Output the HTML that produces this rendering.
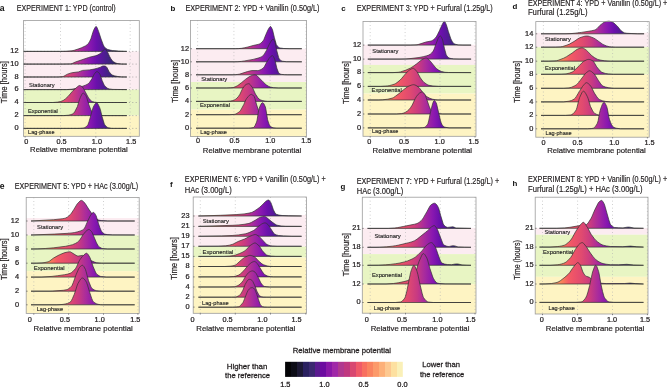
<!DOCTYPE html>
<html><head><meta charset="utf-8"><style>
html,body{margin:0;padding:0;background:#fff;}
svg{display:block;will-change:transform;}
text{font-family:'Liberation Sans', sans-serif;}
</style></head><body>
<svg width="668" height="387" viewBox="0 0 668 387">
<rect width="668" height="387" fill="#fff"/>
<defs><linearGradient id="g0" gradientUnits="userSpaceOnUse" x1="25.10" y1="0" x2="130.25" y2="0"><stop offset="0.0000" stop-color="#fbf0b8"/><stop offset="0.1000" stop-color="#fcb078"/><stop offset="0.1933" stop-color="#f88058"/><stop offset="0.2533" stop-color="#f45c64"/><stop offset="0.3000" stop-color="#ee5468"/><stop offset="0.3800" stop-color="#e04a70"/><stop offset="0.4667" stop-color="#c83a82"/><stop offset="0.5333" stop-color="#aa2c9c"/><stop offset="0.6133" stop-color="#8a18b0"/><stop offset="0.6800" stop-color="#6a10ac"/><stop offset="0.7667" stop-color="#4a1e8e"/><stop offset="0.8333" stop-color="#382874"/><stop offset="0.8800" stop-color="#241c4c"/><stop offset="0.9333" stop-color="#120e26"/><stop offset="1.0000" stop-color="#040406"/></linearGradient></defs>
<rect x="23.50" y="51.40" width="115.80" height="38.20" fill="#fcecf1"/>
<rect x="23.50" y="89.60" width="115.80" height="26.00" fill="#e8f5c3"/>
<rect x="23.50" y="115.60" width="115.80" height="20.70" fill="#fef4c3"/>
<line x1="25.10" y1="20.60" x2="25.10" y2="136.30" stroke="#b2b2b2" stroke-width="0.75" stroke-dasharray="0.8,2.7"/>
<line x1="60.50" y1="20.60" x2="60.50" y2="136.30" stroke="#b2b2b2" stroke-width="0.75" stroke-dasharray="0.8,2.7"/>
<line x1="95.80" y1="20.60" x2="95.80" y2="136.30" stroke="#b2b2b2" stroke-width="0.75" stroke-dasharray="0.8,2.7"/>
<line x1="130.20" y1="20.60" x2="130.20" y2="136.30" stroke="#b2b2b2" stroke-width="0.75" stroke-dasharray="0.8,2.7"/>
<line x1="23.50" y1="51.40" x2="139.30" y2="51.40" stroke="#999" stroke-width="0.8" stroke-dasharray="1,2.4"/>
<line x1="23.50" y1="64.10" x2="139.30" y2="64.10" stroke="#999" stroke-width="0.8" stroke-dasharray="1,2.4"/>
<line x1="23.50" y1="77.00" x2="139.30" y2="77.00" stroke="#999" stroke-width="0.8" stroke-dasharray="1,2.4"/>
<line x1="23.50" y1="89.60" x2="139.30" y2="89.60" stroke="#999" stroke-width="0.8" stroke-dasharray="1,2.4"/>
<line x1="23.50" y1="102.50" x2="139.30" y2="102.50" stroke="#999" stroke-width="0.8" stroke-dasharray="1,2.4"/>
<line x1="23.50" y1="115.60" x2="139.30" y2="115.60" stroke="#999" stroke-width="0.8" stroke-dasharray="1,2.4"/>
<line x1="23.50" y1="128.40" x2="139.30" y2="128.40" stroke="#999" stroke-width="0.8" stroke-dasharray="1,2.4"/>
<path d="M23.5,51.4 60.4,51.4 65.9,51.3 71.9,50.8 74.2,50.3 78.1,49.0 81.4,47.8 85.4,45.9 87.1,44.8 88.1,43.8 89.4,41.9 90.9,38.8 92.9,32.3 93.6,30.3 95.1,27.4 95.6,26.7 96.1,26.5 96.6,26.8 97.1,27.7 98.6,31.4 101.1,39.1 103.3,44.9 104.3,46.8 106.1,48.6 107.1,49.2 108.1,49.6 110.1,50.1 112.3,50.5 118.8,51.1 126.8,51.4Z" fill="url(#g0)" stroke="#303030" stroke-width="0.7" stroke-linejoin="round"/>
<path d="M23.5,64.1 61.7,64.1 70.9,63.9 72.2,63.5 75.4,62.0 88.6,57.5 91.1,56.8 95.4,55.8 97.4,55.1 99.4,54.0 101.6,52.4 103.8,49.7 104.3,49.3 104.8,49.1 105.6,49.4 107.1,51.3 107.8,52.6 109.6,56.4 110.8,58.6 112.3,60.7 113.6,61.8 115.8,63.1 117.8,63.6 121.3,64.0 126.8,64.1Z" fill="url(#g0)" stroke="#303030" stroke-width="0.7" stroke-linejoin="round"/>
<path d="M23.5,77.0 58.2,77.0 62.2,76.7 63.2,76.5 63.9,76.2 67.4,74.2 71.2,72.9 72.9,72.6 78.4,71.9 82.6,70.4 89.4,69.9 94.1,69.1 97.4,68.2 100.4,67.2 102.6,66.1 103.8,65.9 105.1,66.1 106.3,66.7 107.1,67.7 109.1,71.7 110.8,73.8 111.6,74.5 112.3,75.0 114.8,75.9 117.8,76.5 121.3,76.9 126.8,77.0Z" fill="url(#g0)" stroke="#303030" stroke-width="0.7" stroke-linejoin="round"/>
<path d="M23.5,89.6 66.7,89.6 71.9,89.2 76.6,88.3 79.9,87.3 85.4,85.2 87.1,84.4 88.4,83.6 89.6,82.3 91.9,78.8 94.1,74.4 94.9,73.2 96.1,72.0 96.6,71.7 97.1,71.6 97.6,71.8 98.4,72.3 99.9,74.1 100.6,75.9 102.1,80.4 103.6,83.8 104.3,85.2 105.8,86.9 107.6,88.3 109.1,88.9 112.8,89.4 126.8,89.6Z" fill="url(#g0)" stroke="#303030" stroke-width="0.7" stroke-linejoin="round"/>
<path d="M23.5,102.5 52.9,102.5 57.7,102.1 60.7,101.5 63.2,100.5 65.4,98.9 68.2,96.3 71.9,91.9 73.9,89.8 78.4,86.0 79.1,85.6 79.6,85.5 80.9,85.9 82.1,86.7 82.6,87.1 83.6,88.6 85.4,92.1 88.6,98.0 90.6,100.3 91.6,101.2 92.4,101.6 94.9,102.3 96.9,102.5 126.8,102.5Z" fill="url(#g0)" stroke="#303030" stroke-width="0.7" stroke-linejoin="round"/>
<path d="M23.5,115.6 63.7,115.6 68.4,115.2 70.2,114.8 71.7,114.3 72.9,113.8 73.7,113.2 74.7,111.8 75.6,110.1 77.4,106.6 79.6,99.3 80.4,97.3 82.1,93.9 82.6,93.3 83.1,93.1 83.6,93.2 84.4,93.8 85.6,95.2 86.1,96.0 86.9,98.1 88.9,104.8 90.6,109.2 91.6,111.3 92.6,112.7 93.9,113.7 95.1,114.5 96.9,115.1 99.4,115.4 101.3,115.6 126.8,115.6Z" fill="url(#g0)" stroke="#303030" stroke-width="0.7" stroke-linejoin="round"/>
<path d="M23.5,128.4 78.4,128.4 82.1,128.2 84.1,127.9 85.1,127.4 86.1,126.7 87.4,125.6 87.9,124.9 89.1,121.4 93.1,107.5 94.1,105.5 95.1,103.9 95.9,103.1 96.6,102.8 97.1,103.0 97.9,103.9 99.6,107.4 100.4,109.7 102.1,116.7 104.1,123.3 104.8,124.9 106.6,126.8 107.3,127.3 108.1,127.7 110.1,128.1 111.8,128.4 126.8,128.4Z" fill="url(#g0)" stroke="#303030" stroke-width="0.7" stroke-linejoin="round"/>
<rect x="23.50" y="20.60" width="115.80" height="115.70" fill="none" stroke="#9c9c9c" stroke-width="0.8"/>
<line x1="23.50" y1="51.40" x2="24.90" y2="51.40" stroke="#555" stroke-width="0.7"/>
<line x1="23.50" y1="64.10" x2="24.90" y2="64.10" stroke="#555" stroke-width="0.7"/>
<line x1="23.50" y1="77.00" x2="24.90" y2="77.00" stroke="#555" stroke-width="0.7"/>
<line x1="23.50" y1="89.60" x2="24.90" y2="89.60" stroke="#555" stroke-width="0.7"/>
<line x1="23.50" y1="102.50" x2="24.90" y2="102.50" stroke="#555" stroke-width="0.7"/>
<line x1="23.50" y1="115.60" x2="24.90" y2="115.60" stroke="#555" stroke-width="0.7"/>
<line x1="23.50" y1="128.40" x2="24.90" y2="128.40" stroke="#555" stroke-width="0.7"/>
<line x1="25.10" y1="136.30" x2="25.10" y2="137.50" stroke="#555" stroke-width="0.7"/>
<line x1="60.50" y1="136.30" x2="60.50" y2="137.50" stroke="#555" stroke-width="0.7"/>
<line x1="95.80" y1="136.30" x2="95.80" y2="137.50" stroke="#555" stroke-width="0.7"/>
<line x1="130.20" y1="136.30" x2="130.20" y2="137.50" stroke="#555" stroke-width="0.7"/>
<text x="28.90" y="86.70" font-size="6.1" text-anchor="start" font-weight="normal" fill="#222" textLength="25.70" lengthAdjust="spacingAndGlyphs" stroke="#222" stroke-width="0.14">Stationary</text>
<text x="27.90" y="113.30" font-size="6.1" text-anchor="start" font-weight="normal" fill="#222" textLength="30.00" lengthAdjust="spacingAndGlyphs" stroke="#222" stroke-width="0.14">Exponential</text>
<text x="28.10" y="133.90" font-size="6.1" text-anchor="start" font-weight="normal" fill="#222" textLength="26.40" lengthAdjust="spacingAndGlyphs" stroke="#222" stroke-width="0.14">Lag-phase</text>
<text x="18.60" y="53.20" font-size="7.4" text-anchor="end" font-weight="normal" fill="#231f20" stroke="#231f20" stroke-width="0.24">12</text>
<text x="18.60" y="65.90" font-size="7.4" text-anchor="end" font-weight="normal" fill="#231f20" stroke="#231f20" stroke-width="0.24">10</text>
<text x="18.60" y="78.80" font-size="7.4" text-anchor="end" font-weight="normal" fill="#231f20" stroke="#231f20" stroke-width="0.24">8</text>
<text x="18.60" y="91.40" font-size="7.4" text-anchor="end" font-weight="normal" fill="#231f20" stroke="#231f20" stroke-width="0.24">6</text>
<text x="18.60" y="104.30" font-size="7.4" text-anchor="end" font-weight="normal" fill="#231f20" stroke="#231f20" stroke-width="0.24">4</text>
<text x="18.60" y="117.40" font-size="7.4" text-anchor="end" font-weight="normal" fill="#231f20" stroke="#231f20" stroke-width="0.24">2</text>
<text x="18.60" y="130.20" font-size="7.4" text-anchor="end" font-weight="normal" fill="#231f20" stroke="#231f20" stroke-width="0.24">0</text>
<text x="26.25" y="143.70" font-size="7.3" text-anchor="middle" font-weight="normal" fill="#231f20" stroke="#231f20" stroke-width="0.24">0</text>
<text x="61.50" y="143.70" font-size="7.3" text-anchor="middle" font-weight="normal" fill="#231f20" stroke="#231f20" stroke-width="0.24">0.5</text>
<text x="96.90" y="143.70" font-size="7.3" text-anchor="middle" font-weight="normal" fill="#231f20" stroke="#231f20" stroke-width="0.24">1.0</text>
<text x="131.20" y="143.70" font-size="7.3" text-anchor="middle" font-weight="normal" fill="#231f20" stroke="#231f20" stroke-width="0.24">1.5</text>
<text x="30.10" y="152.40" font-size="7.8" text-anchor="start" font-weight="normal" fill="#231f20" textLength="97.50" lengthAdjust="spacingAndGlyphs" stroke="#231f20" stroke-width="0.2">Relative membrane potential</text>
<text x="7.30" y="82.10" font-size="8.2" text-anchor="middle" font-weight="normal" fill="#231f20" textLength="42.20" lengthAdjust="spacingAndGlyphs" transform="rotate(-90 7.30 82.10)" stroke="#231f20" stroke-width="0.2">Time [hours]</text>
<text x="-0.20" y="10.80" font-size="8.6" text-anchor="start" font-weight="bold" fill="#111">a</text>
<text x="16.80" y="10.60" font-size="8.2" text-anchor="start" font-weight="normal" fill="#231f20" textLength="98.90" lengthAdjust="spacingAndGlyphs" stroke="#231f20" stroke-width="0.16">EXPERIMENT 1: YPD (control)</text>
<defs><linearGradient id="g1" gradientUnits="userSpaceOnUse" x1="197.60" y1="0" x2="306.50" y2="0"><stop offset="0.0000" stop-color="#fbf0b8"/><stop offset="0.1000" stop-color="#fcb078"/><stop offset="0.1933" stop-color="#f88058"/><stop offset="0.2533" stop-color="#f45c64"/><stop offset="0.3000" stop-color="#ee5468"/><stop offset="0.3800" stop-color="#e04a70"/><stop offset="0.4667" stop-color="#c83a82"/><stop offset="0.5333" stop-color="#aa2c9c"/><stop offset="0.6133" stop-color="#8a18b0"/><stop offset="0.6800" stop-color="#6a10ac"/><stop offset="0.7667" stop-color="#4a1e8e"/><stop offset="0.8333" stop-color="#382874"/><stop offset="0.8800" stop-color="#241c4c"/><stop offset="0.9333" stop-color="#120e26"/><stop offset="1.0000" stop-color="#040406"/></linearGradient></defs>
<rect x="190.50" y="48.70" width="116.00" height="33.30" fill="#fcecf1"/>
<rect x="190.50" y="82.00" width="116.00" height="27.60" fill="#e8f5c3"/>
<rect x="190.50" y="109.60" width="116.00" height="27.00" fill="#fef4c3"/>
<line x1="197.60" y1="20.40" x2="197.60" y2="136.60" stroke="#b2b2b2" stroke-width="0.75" stroke-dasharray="0.8,2.7"/>
<line x1="233.90" y1="20.40" x2="233.90" y2="136.60" stroke="#b2b2b2" stroke-width="0.75" stroke-dasharray="0.8,2.7"/>
<line x1="270.20" y1="20.40" x2="270.20" y2="136.60" stroke="#b2b2b2" stroke-width="0.75" stroke-dasharray="0.8,2.7"/>
<line x1="306.00" y1="20.40" x2="306.00" y2="136.60" stroke="#b2b2b2" stroke-width="0.75" stroke-dasharray="0.8,2.7"/>
<path d="M196.0,48.7 235.2,48.7 238.4,48.6 241.7,48.3 244.7,47.7 247.9,47.0 253.1,45.5 258.1,44.4 259.4,44.0 260.6,43.3 261.9,42.2 263.1,40.8 263.9,39.5 265.9,34.5 268.1,29.6 269.6,27.2 270.1,26.6 270.4,26.5 270.9,26.7 271.4,27.4 272.6,30.1 274.4,37.7 276.3,44.5 277.1,45.8 278.6,47.2 279.3,47.7 280.3,48.0 283.8,48.5 289.1,48.7 301.8,48.7Z" fill="url(#g1)" stroke="#303030" stroke-width="0.7" stroke-linejoin="round"/>
<path d="M196.0,61.8 234.2,61.8 237.9,61.7 241.4,61.4 244.7,60.9 253.1,59.4 258.1,58.1 260.1,57.4 261.6,56.7 262.6,56.1 263.4,55.3 264.4,53.9 266.4,50.5 269.1,44.6 271.1,41.2 272.1,39.8 272.6,39.4 273.1,39.3 273.6,39.6 274.1,40.3 275.1,42.2 276.8,50.8 278.6,57.4 279.3,58.9 280.8,60.5 281.6,60.9 282.3,61.2 286.3,61.7 301.8,61.8Z" fill="url(#g1)" stroke="#303030" stroke-width="0.7" stroke-linejoin="round"/>
<path d="M196.0,74.8 232.2,74.8 235.2,74.7 237.9,74.4 239.7,74.1 247.4,71.6 250.9,70.7 251.9,70.6 257.6,70.6 258.9,70.4 261.1,69.5 263.4,68.0 264.4,66.6 266.4,62.8 269.1,58.4 271.1,56.2 271.9,55.7 272.4,55.6 272.9,55.9 273.4,56.5 274.6,59.0 275.1,60.6 276.8,68.1 278.3,72.1 278.8,72.9 279.3,73.4 280.3,74.0 281.6,74.4 284.6,74.7 287.6,74.8 301.8,74.8Z" fill="url(#g1)" stroke="#303030" stroke-width="0.7" stroke-linejoin="round"/>
<path d="M196.0,88.0 226.7,88.0 230.7,87.8 233.2,87.6 235.9,86.5 237.7,85.6 241.4,82.8 245.7,79.2 249.4,76.6 250.9,75.9 252.6,75.3 253.9,74.9 255.1,74.8 256.1,75.1 257.1,75.8 263.1,81.9 266.1,84.8 268.4,86.2 270.1,87.0 273.6,87.7 278.3,88.0 301.8,88.0Z" fill="url(#g1)" stroke="#303030" stroke-width="0.7" stroke-linejoin="round"/>
<path d="M196.0,101.4 225.9,101.4 230.7,101.1 232.7,100.6 234.4,99.9 235.7,99.2 236.9,98.2 238.4,96.5 239.9,94.3 242.4,88.9 243.9,86.7 244.9,85.4 246.2,84.4 247.7,83.9 248.7,83.7 249.4,83.9 250.1,84.5 252.4,87.5 253.1,88.9 255.4,94.0 257.9,97.8 259.1,99.1 260.6,99.9 262.1,100.5 264.9,101.1 267.6,101.4 301.8,101.4Z" fill="url(#g1)" stroke="#303030" stroke-width="0.7" stroke-linejoin="round"/>
<path d="M196.0,114.7 229.7,114.7 234.2,114.4 235.7,114.0 236.9,113.4 238.2,112.6 239.4,111.7 240.2,110.9 241.4,108.9 243.7,104.7 245.9,99.7 246.7,98.4 248.2,96.6 249.4,95.3 250.4,94.7 251.4,94.4 251.9,94.5 252.6,94.9 254.1,96.4 254.9,98.4 256.4,104.1 258.6,110.8 259.1,111.7 259.9,112.5 260.9,113.4 261.9,114.0 264.1,114.5 266.6,114.7 301.8,114.7Z" fill="url(#g1)" stroke="#303030" stroke-width="0.7" stroke-linejoin="round"/>
<path d="M196.0,128.2 248.2,128.2 250.9,128.0 253.4,127.6 254.1,127.0 254.9,125.9 256.6,122.1 257.1,120.1 258.6,110.7 259.1,108.5 260.1,106.0 261.1,104.0 261.9,103.0 262.6,102.7 263.1,102.9 263.9,103.8 265.4,107.0 265.9,109.2 267.6,119.7 268.6,122.9 269.4,124.9 270.1,126.2 270.6,126.6 271.9,127.3 273.1,127.8 276.8,128.2 301.8,128.2Z" fill="url(#g1)" stroke="#303030" stroke-width="0.7" stroke-linejoin="round"/>
<rect x="190.50" y="20.40" width="116.00" height="116.20" fill="none" stroke="#9c9c9c" stroke-width="0.8"/>
<line x1="190.50" y1="48.70" x2="191.90" y2="48.70" stroke="#555" stroke-width="0.7"/>
<line x1="190.50" y1="61.80" x2="191.90" y2="61.80" stroke="#555" stroke-width="0.7"/>
<line x1="190.50" y1="74.80" x2="191.90" y2="74.80" stroke="#555" stroke-width="0.7"/>
<line x1="190.50" y1="88.00" x2="191.90" y2="88.00" stroke="#555" stroke-width="0.7"/>
<line x1="190.50" y1="101.40" x2="191.90" y2="101.40" stroke="#555" stroke-width="0.7"/>
<line x1="190.50" y1="114.70" x2="191.90" y2="114.70" stroke="#555" stroke-width="0.7"/>
<line x1="190.50" y1="128.20" x2="191.90" y2="128.20" stroke="#555" stroke-width="0.7"/>
<line x1="197.60" y1="136.60" x2="197.60" y2="137.80" stroke="#555" stroke-width="0.7"/>
<line x1="233.90" y1="136.60" x2="233.90" y2="137.80" stroke="#555" stroke-width="0.7"/>
<line x1="270.20" y1="136.60" x2="270.20" y2="137.80" stroke="#555" stroke-width="0.7"/>
<line x1="306.00" y1="136.60" x2="306.00" y2="137.80" stroke="#555" stroke-width="0.7"/>
<text x="201.20" y="80.90" font-size="6.1" text-anchor="start" font-weight="normal" fill="#222" textLength="26.00" lengthAdjust="spacingAndGlyphs" stroke="#222" stroke-width="0.14">Stationary</text>
<text x="199.90" y="106.90" font-size="6.1" text-anchor="start" font-weight="normal" fill="#222" textLength="30.20" lengthAdjust="spacingAndGlyphs" stroke="#222" stroke-width="0.14">Exponential</text>
<text x="200.30" y="134.30" font-size="6.1" text-anchor="start" font-weight="normal" fill="#222" textLength="26.70" lengthAdjust="spacingAndGlyphs" stroke="#222" stroke-width="0.14">Lag-phase</text>
<text x="189.00" y="50.50" font-size="7.4" text-anchor="end" font-weight="normal" fill="#231f20" stroke="#231f20" stroke-width="0.24">12</text>
<text x="189.00" y="63.60" font-size="7.4" text-anchor="end" font-weight="normal" fill="#231f20" stroke="#231f20" stroke-width="0.24">10</text>
<text x="189.00" y="76.60" font-size="7.4" text-anchor="end" font-weight="normal" fill="#231f20" stroke="#231f20" stroke-width="0.24">8</text>
<text x="189.00" y="89.80" font-size="7.4" text-anchor="end" font-weight="normal" fill="#231f20" stroke="#231f20" stroke-width="0.24">6</text>
<text x="189.00" y="103.20" font-size="7.4" text-anchor="end" font-weight="normal" fill="#231f20" stroke="#231f20" stroke-width="0.24">4</text>
<text x="189.00" y="116.50" font-size="7.4" text-anchor="end" font-weight="normal" fill="#231f20" stroke="#231f20" stroke-width="0.24">2</text>
<text x="189.00" y="130.00" font-size="7.4" text-anchor="end" font-weight="normal" fill="#231f20" stroke="#231f20" stroke-width="0.24">0</text>
<text x="198.10" y="143.30" font-size="7.3" text-anchor="middle" font-weight="normal" fill="#231f20" stroke="#231f20" stroke-width="0.24">0</text>
<text x="234.50" y="143.30" font-size="7.3" text-anchor="middle" font-weight="normal" fill="#231f20" stroke="#231f20" stroke-width="0.24">0.5</text>
<text x="270.30" y="143.30" font-size="7.3" text-anchor="middle" font-weight="normal" fill="#231f20" stroke="#231f20" stroke-width="0.24">1.0</text>
<text x="306.30" y="143.30" font-size="7.3" text-anchor="middle" font-weight="normal" fill="#231f20" stroke="#231f20" stroke-width="0.24">1.5</text>
<text x="202.80" y="152.70" font-size="7.8" text-anchor="start" font-weight="normal" fill="#231f20" textLength="98.40" lengthAdjust="spacingAndGlyphs" stroke="#231f20" stroke-width="0.2">Relative membrane potential</text>
<text x="177.70" y="81.30" font-size="8.2" text-anchor="middle" font-weight="normal" fill="#231f20" textLength="43.00" lengthAdjust="spacingAndGlyphs" transform="rotate(-90 177.70 81.30)" stroke="#231f20" stroke-width="0.2">Time [hours]</text>
<text x="170.40" y="10.80" font-size="7.9" text-anchor="start" font-weight="bold" fill="#111">b</text>
<text x="185.40" y="10.60" font-size="8.2" text-anchor="start" font-weight="normal" fill="#231f20" textLength="134.10" lengthAdjust="spacingAndGlyphs" stroke="#231f20" stroke-width="0.16">EXPERIMENT 2: YPD + Vanillin (0.50g/L)</text>
<defs><linearGradient id="g2" gradientUnits="userSpaceOnUse" x1="370.20" y1="0" x2="474.90" y2="0"><stop offset="0.0000" stop-color="#fbf0b8"/><stop offset="0.1000" stop-color="#fcb078"/><stop offset="0.1933" stop-color="#f88058"/><stop offset="0.2533" stop-color="#f45c64"/><stop offset="0.3000" stop-color="#ee5468"/><stop offset="0.3800" stop-color="#e04a70"/><stop offset="0.4667" stop-color="#c83a82"/><stop offset="0.5333" stop-color="#aa2c9c"/><stop offset="0.6133" stop-color="#8a18b0"/><stop offset="0.6800" stop-color="#6a10ac"/><stop offset="0.7667" stop-color="#4a1e8e"/><stop offset="0.8333" stop-color="#382874"/><stop offset="0.8800" stop-color="#241c4c"/><stop offset="0.9333" stop-color="#120e26"/><stop offset="1.0000" stop-color="#040406"/></linearGradient></defs>
<rect x="363.00" y="44.80" width="113.00" height="20.10" fill="#fcecf1"/>
<rect x="363.00" y="64.90" width="113.00" height="28.60" fill="#e8f5c3"/>
<rect x="363.00" y="93.50" width="113.00" height="42.80" fill="#fef4c3"/>
<line x1="370.20" y1="21.50" x2="370.20" y2="136.30" stroke="#b2b2b2" stroke-width="0.75" stroke-dasharray="0.8,2.7"/>
<line x1="405.10" y1="21.50" x2="405.10" y2="136.30" stroke="#b2b2b2" stroke-width="0.75" stroke-dasharray="0.8,2.7"/>
<line x1="440.00" y1="21.50" x2="440.00" y2="136.30" stroke="#b2b2b2" stroke-width="0.75" stroke-dasharray="0.8,2.7"/>
<line x1="475.00" y1="21.50" x2="475.00" y2="136.30" stroke="#b2b2b2" stroke-width="0.75" stroke-dasharray="0.8,2.7"/>
<path d="M367.8,45.1 410.2,45.1 415.0,44.9 417.0,44.8 418.2,44.5 425.7,42.1 431.2,41.0 432.4,40.4 433.7,39.6 435.4,38.0 436.2,37.0 437.4,34.8 439.4,30.8 442.2,24.5 443.7,21.8 444.2,21.4 444.4,21.4 444.7,21.6 445.2,22.2 446.4,24.9 448.4,31.6 450.9,39.0 452.1,41.3 453.1,42.7 453.9,43.5 454.6,44.0 455.6,44.3 458.1,44.9 462.9,45.1 471.1,45.1Z" fill="url(#g2)" stroke="#303030" stroke-width="0.7" stroke-linejoin="round"/>
<path d="M367.8,59.1 400.0,59.1 406.0,58.9 411.0,58.5 419.0,57.5 423.2,56.7 426.7,55.8 428.7,55.1 430.2,54.3 431.7,53.0 433.2,51.1 434.2,49.0 435.7,44.7 438.2,38.3 439.4,36.5 439.9,36.0 440.4,35.9 440.9,36.3 441.4,37.1 442.7,40.0 444.4,48.2 446.1,54.4 446.9,56.0 448.4,57.5 449.9,58.3 451.6,58.6 453.6,58.9 459.1,59.1 471.1,59.1Z" fill="url(#g2)" stroke="#303030" stroke-width="0.7" stroke-linejoin="round"/>
<path d="M367.8,72.6 393.0,72.6 398.2,72.3 400.5,71.9 406.0,70.1 410.7,67.9 413.0,66.5 416.7,63.8 421.4,60.0 424.4,58.4 425.9,58.0 426.4,58.1 427.2,58.4 429.7,60.4 435.2,67.2 436.4,68.6 438.9,70.3 441.2,71.4 444.9,72.3 448.6,72.5 471.1,72.6Z" fill="url(#g2)" stroke="#303030" stroke-width="0.7" stroke-linejoin="round"/>
<path d="M367.8,86.4 380.8,86.4 385.5,86.1 387.8,85.9 389.8,85.5 392.0,84.9 394.5,84.1 395.7,83.5 397.0,82.6 400.2,80.0 401.5,78.6 405.0,74.4 408.7,70.5 409.7,69.8 411.5,68.8 412.5,68.4 413.2,68.3 413.7,68.4 414.5,68.9 416.7,71.3 417.7,72.9 420.2,77.5 421.9,80.0 423.2,81.5 424.2,82.5 426.2,83.9 427.7,84.8 428.9,85.3 432.9,86.0 438.9,86.4 471.1,86.4Z" fill="url(#g2)" stroke="#303030" stroke-width="0.7" stroke-linejoin="round"/>
<path d="M367.8,100.0 378.5,100.0 382.5,99.8 387.8,99.2 392.3,98.1 393.5,97.6 395.2,96.4 399.0,93.6 403.0,90.2 407.5,86.8 408.7,86.2 411.2,85.2 412.5,84.8 413.7,84.7 414.7,84.9 416.0,85.4 419.0,87.5 419.9,88.6 422.7,92.3 425.4,95.3 426.9,96.7 429.7,98.2 432.4,99.2 435.7,99.8 437.9,100.0 471.1,100.0Z" fill="url(#g2)" stroke="#303030" stroke-width="0.7" stroke-linejoin="round"/>
<path d="M367.8,114.0 396.5,114.0 401.7,113.6 404.0,113.0 405.5,112.2 407.2,111.2 409.0,109.6 410.5,107.7 412.2,105.1 415.2,98.6 416.5,96.4 418.2,94.3 419.5,93.1 421.2,92.2 422.2,92.0 422.9,92.3 423.7,93.0 424.9,94.6 425.4,95.5 429.4,106.9 430.4,109.2 432.4,111.9 433.2,112.6 433.9,113.0 437.2,113.6 442.7,114.0 471.1,114.0Z" fill="url(#g2)" stroke="#303030" stroke-width="0.7" stroke-linejoin="round"/>
<path d="M367.8,127.9 419.2,127.9 422.4,127.7 423.9,127.5 424.7,127.3 425.4,126.8 426.4,125.9 427.4,124.6 427.9,123.7 428.7,121.0 430.2,113.5 432.2,105.2 433.2,102.1 433.7,101.1 434.2,100.5 434.7,100.7 435.4,101.6 436.2,102.9 436.7,104.3 440.4,120.3 441.2,122.9 441.7,124.1 442.2,124.9 442.9,125.9 443.7,126.6 444.4,127.0 445.9,127.4 449.1,127.9 471.1,127.9Z" fill="url(#g2)" stroke="#303030" stroke-width="0.7" stroke-linejoin="round"/>
<rect x="363.00" y="21.50" width="113.00" height="114.80" fill="none" stroke="#9c9c9c" stroke-width="0.8"/>
<line x1="363.00" y1="45.10" x2="364.40" y2="45.10" stroke="#555" stroke-width="0.7"/>
<line x1="363.00" y1="59.10" x2="364.40" y2="59.10" stroke="#555" stroke-width="0.7"/>
<line x1="363.00" y1="72.60" x2="364.40" y2="72.60" stroke="#555" stroke-width="0.7"/>
<line x1="363.00" y1="86.40" x2="364.40" y2="86.40" stroke="#555" stroke-width="0.7"/>
<line x1="363.00" y1="100.00" x2="364.40" y2="100.00" stroke="#555" stroke-width="0.7"/>
<line x1="363.00" y1="114.00" x2="364.40" y2="114.00" stroke="#555" stroke-width="0.7"/>
<line x1="363.00" y1="127.90" x2="364.40" y2="127.90" stroke="#555" stroke-width="0.7"/>
<line x1="370.20" y1="136.30" x2="370.20" y2="137.50" stroke="#555" stroke-width="0.7"/>
<line x1="405.10" y1="136.30" x2="405.10" y2="137.50" stroke="#555" stroke-width="0.7"/>
<line x1="440.00" y1="136.30" x2="440.00" y2="137.50" stroke="#555" stroke-width="0.7"/>
<line x1="475.00" y1="136.30" x2="475.00" y2="137.50" stroke="#555" stroke-width="0.7"/>
<text x="372.30" y="53.10" font-size="6.1" text-anchor="start" font-weight="normal" fill="#222" textLength="26.10" lengthAdjust="spacingAndGlyphs" stroke="#222" stroke-width="0.14">Stationary</text>
<text x="371.60" y="92.10" font-size="6.1" text-anchor="start" font-weight="normal" fill="#222" textLength="30.30" lengthAdjust="spacingAndGlyphs" stroke="#222" stroke-width="0.14">Exponential</text>
<text x="372.00" y="133.00" font-size="6.1" text-anchor="start" font-weight="normal" fill="#222" textLength="26.40" lengthAdjust="spacingAndGlyphs" stroke="#222" stroke-width="0.14">Lag-phase</text>
<text x="361.20" y="46.90" font-size="7.4" text-anchor="end" font-weight="normal" fill="#231f20" stroke="#231f20" stroke-width="0.24">12</text>
<text x="361.20" y="60.90" font-size="7.4" text-anchor="end" font-weight="normal" fill="#231f20" stroke="#231f20" stroke-width="0.24">10</text>
<text x="361.20" y="74.40" font-size="7.4" text-anchor="end" font-weight="normal" fill="#231f20" stroke="#231f20" stroke-width="0.24">8</text>
<text x="361.20" y="88.20" font-size="7.4" text-anchor="end" font-weight="normal" fill="#231f20" stroke="#231f20" stroke-width="0.24">6</text>
<text x="361.20" y="101.80" font-size="7.4" text-anchor="end" font-weight="normal" fill="#231f20" stroke="#231f20" stroke-width="0.24">4</text>
<text x="361.20" y="115.80" font-size="7.4" text-anchor="end" font-weight="normal" fill="#231f20" stroke="#231f20" stroke-width="0.24">2</text>
<text x="361.20" y="129.70" font-size="7.4" text-anchor="end" font-weight="normal" fill="#231f20" stroke="#231f20" stroke-width="0.24">0</text>
<text x="369.30" y="143.50" font-size="7.3" text-anchor="middle" font-weight="normal" fill="#231f20" stroke="#231f20" stroke-width="0.24">0</text>
<text x="404.10" y="143.50" font-size="7.3" text-anchor="middle" font-weight="normal" fill="#231f20" stroke="#231f20" stroke-width="0.24">0.5</text>
<text x="439.70" y="143.50" font-size="7.3" text-anchor="middle" font-weight="normal" fill="#231f20" stroke="#231f20" stroke-width="0.24">1.0</text>
<text x="473.70" y="143.50" font-size="7.3" text-anchor="middle" font-weight="normal" fill="#231f20" stroke="#231f20" stroke-width="0.24">1.5</text>
<text x="372.60" y="152.50" font-size="7.8" text-anchor="start" font-weight="normal" fill="#231f20" textLength="99.40" lengthAdjust="spacingAndGlyphs" stroke="#231f20" stroke-width="0.2">Relative membrane potential</text>
<text x="349.20" y="82.50" font-size="8.2" text-anchor="middle" font-weight="normal" fill="#231f20" textLength="43.00" lengthAdjust="spacingAndGlyphs" transform="rotate(-90 349.20 82.50)" stroke="#231f20" stroke-width="0.2">Time [hours]</text>
<text x="341.30" y="10.80" font-size="7.9" text-anchor="start" font-weight="bold" fill="#111">c</text>
<text x="356.70" y="10.60" font-size="8.2" text-anchor="start" font-weight="normal" fill="#231f20" textLength="136.10" lengthAdjust="spacingAndGlyphs" stroke="#231f20" stroke-width="0.16">EXPERIMENT 3: YPD + Furfural (1.25g/L)</text>
<defs><linearGradient id="g3" gradientUnits="userSpaceOnUse" x1="543.40" y1="0" x2="647.35" y2="0"><stop offset="0.0000" stop-color="#fbf0b8"/><stop offset="0.1000" stop-color="#fcb078"/><stop offset="0.1933" stop-color="#f88058"/><stop offset="0.2533" stop-color="#f45c64"/><stop offset="0.3000" stop-color="#ee5468"/><stop offset="0.3800" stop-color="#e04a70"/><stop offset="0.4667" stop-color="#c83a82"/><stop offset="0.5333" stop-color="#aa2c9c"/><stop offset="0.6133" stop-color="#8a18b0"/><stop offset="0.6800" stop-color="#6a10ac"/><stop offset="0.7667" stop-color="#4a1e8e"/><stop offset="0.8333" stop-color="#382874"/><stop offset="0.8800" stop-color="#241c4c"/><stop offset="0.9333" stop-color="#120e26"/><stop offset="1.0000" stop-color="#040406"/></linearGradient></defs>
<rect x="535.80" y="32.80" width="113.40" height="14.40" fill="#fcecf1"/>
<rect x="535.80" y="47.20" width="113.40" height="27.10" fill="#e8f5c3"/>
<rect x="535.80" y="74.30" width="113.40" height="62.90" fill="#fef4c3"/>
<line x1="543.40" y1="21.60" x2="543.40" y2="137.20" stroke="#b2b2b2" stroke-width="0.75" stroke-dasharray="0.8,2.7"/>
<line x1="578.60" y1="21.60" x2="578.60" y2="137.20" stroke="#b2b2b2" stroke-width="0.75" stroke-dasharray="0.8,2.7"/>
<line x1="612.60" y1="21.60" x2="612.60" y2="137.20" stroke="#b2b2b2" stroke-width="0.75" stroke-dasharray="0.8,2.7"/>
<line x1="647.40" y1="21.60" x2="647.40" y2="137.20" stroke="#b2b2b2" stroke-width="0.75" stroke-dasharray="0.8,2.7"/>
<path d="M541.0,33.8 565.0,33.8 571.0,33.6 575.2,33.2 581.4,32.4 591.4,30.8 594.2,30.2 595.9,29.5 597.2,28.4 599.9,25.4 602.7,23.2 604.2,22.2 605.2,21.8 606.2,21.5 608.7,21.2 609.9,21.3 611.6,21.8 612.6,22.2 613.9,23.0 617.4,26.2 620.9,30.6 622.9,32.0 624.6,32.9 626.9,33.3 631.1,33.5 637.6,33.8 644.1,33.8Z" fill="url(#g3)" stroke="#303030" stroke-width="0.7" stroke-linejoin="round"/>
<path d="M541.0,47.2 555.5,47.1 560.2,46.9 562.7,46.5 567.0,45.1 569.5,44.1 574.0,41.5 577.9,38.8 579.7,37.8 583.9,36.4 585.4,36.1 586.9,36.0 588.2,36.1 589.4,36.4 593.4,37.9 595.2,38.9 602.9,44.4 606.4,45.9 609.2,46.7 611.9,47.0 615.4,47.2 644.1,47.2Z" fill="url(#g3)" stroke="#303030" stroke-width="0.7" stroke-linejoin="round"/>
<path d="M541.0,61.2 548.7,61.2 555.0,60.9 556.7,60.7 558.7,60.1 563.7,58.2 566.5,56.7 572.2,53.0 575.7,50.3 577.2,49.3 580.2,48.1 581.9,47.8 582.7,47.9 583.7,48.4 586.4,50.2 587.7,51.4 591.2,55.2 594.4,57.6 596.2,58.6 597.7,59.4 600.9,60.2 604.7,60.8 610.6,61.2 644.1,61.2Z" fill="url(#g3)" stroke="#303030" stroke-width="0.7" stroke-linejoin="round"/>
<path d="M541.0,74.3 561.2,74.2 566.0,73.9 569.5,73.1 572.2,72.1 573.7,71.1 579.2,65.7 582.2,62.6 583.7,61.3 586.7,59.8 587.7,59.5 588.7,59.4 589.7,59.5 590.7,59.8 592.2,60.5 593.2,61.2 594.2,62.5 596.7,66.8 600.2,71.0 601.2,71.8 601.9,72.3 605.2,73.4 608.2,73.9 613.6,74.3 644.1,74.3Z" fill="url(#g3)" stroke="#303030" stroke-width="0.7" stroke-linejoin="round"/>
<path d="M541.0,88.3 563.7,88.3 569.0,87.9 571.7,87.2 574.7,85.8 576.2,85.0 576.9,84.4 578.7,82.4 585.4,73.5 586.2,72.8 588.2,71.3 588.9,70.9 589.7,70.8 590.4,71.0 591.4,71.5 594.2,73.9 595.4,75.6 598.2,80.2 600.7,83.8 601.9,85.3 602.9,86.1 605.4,87.0 608.9,87.8 614.1,88.3 644.1,88.3Z" fill="url(#g3)" stroke="#303030" stroke-width="0.7" stroke-linejoin="round"/>
<path d="M541.0,101.9 563.5,101.9 569.0,101.2 571.7,100.4 574.2,99.1 575.2,98.2 576.4,96.4 579.2,91.7 582.7,86.2 585.2,83.3 585.9,82.8 586.4,82.7 587.2,82.9 588.2,83.5 589.9,85.1 590.7,86.0 591.7,87.7 594.4,93.1 596.7,96.6 597.9,98.3 599.2,99.4 602.2,100.7 605.4,101.4 610.4,101.9 644.1,101.9Z" fill="url(#g3)" stroke="#303030" stroke-width="0.7" stroke-linejoin="round"/>
<path d="M541.0,115.4 565.5,115.4 570.5,115.0 571.2,114.8 572.0,114.5 573.0,113.8 574.0,112.8 575.2,111.3 576.2,109.9 576.9,107.8 578.9,99.8 579.7,97.4 581.9,92.7 582.7,91.6 583.4,91.2 584.2,91.5 584.9,92.2 585.9,93.8 587.4,96.7 588.2,98.7 590.4,106.3 592.7,110.9 593.7,112.4 594.4,113.2 596.7,114.4 598.2,114.9 599.4,115.1 603.9,115.4 644.1,115.4Z" fill="url(#g3)" stroke="#303030" stroke-width="0.7" stroke-linejoin="round"/>
<path d="M541.0,128.8 587.4,128.8 591.2,128.6 593.4,128.2 594.4,127.5 595.4,126.4 596.4,124.9 597.4,123.2 598.2,120.5 599.4,113.6 600.2,110.3 601.4,106.7 602.4,104.2 603.2,103.0 603.9,102.4 604.4,102.5 605.2,103.4 606.7,106.4 607.4,109.1 608.9,117.2 609.4,119.2 610.6,122.5 611.6,124.7 612.6,126.3 613.4,127.0 614.9,127.8 616.1,128.2 620.4,128.8 644.1,128.8Z" fill="url(#g3)" stroke="#303030" stroke-width="0.7" stroke-linejoin="round"/>
<rect x="535.80" y="21.60" width="113.40" height="115.60" fill="none" stroke="#9c9c9c" stroke-width="0.8"/>
<line x1="535.80" y1="33.80" x2="537.20" y2="33.80" stroke="#555" stroke-width="0.7"/>
<line x1="535.80" y1="47.20" x2="537.20" y2="47.20" stroke="#555" stroke-width="0.7"/>
<line x1="535.80" y1="61.20" x2="537.20" y2="61.20" stroke="#555" stroke-width="0.7"/>
<line x1="535.80" y1="74.30" x2="537.20" y2="74.30" stroke="#555" stroke-width="0.7"/>
<line x1="535.80" y1="88.30" x2="537.20" y2="88.30" stroke="#555" stroke-width="0.7"/>
<line x1="535.80" y1="101.90" x2="537.20" y2="101.90" stroke="#555" stroke-width="0.7"/>
<line x1="535.80" y1="115.40" x2="537.20" y2="115.40" stroke="#555" stroke-width="0.7"/>
<line x1="535.80" y1="128.80" x2="537.20" y2="128.80" stroke="#555" stroke-width="0.7"/>
<line x1="543.40" y1="137.20" x2="543.40" y2="138.40" stroke="#555" stroke-width="0.7"/>
<line x1="578.60" y1="137.20" x2="578.60" y2="138.40" stroke="#555" stroke-width="0.7"/>
<line x1="612.60" y1="137.20" x2="612.60" y2="138.40" stroke="#555" stroke-width="0.7"/>
<line x1="647.40" y1="137.20" x2="647.40" y2="138.40" stroke="#555" stroke-width="0.7"/>
<text x="545.00" y="40.70" font-size="6.1" text-anchor="start" font-weight="normal" fill="#222" textLength="25.80" lengthAdjust="spacingAndGlyphs" stroke="#222" stroke-width="0.14">Stationary</text>
<text x="545.00" y="69.90" font-size="6.1" text-anchor="start" font-weight="normal" fill="#222" textLength="30.00" lengthAdjust="spacingAndGlyphs" stroke="#222" stroke-width="0.14">Exponential</text>
<text x="545.40" y="134.70" font-size="6.1" text-anchor="start" font-weight="normal" fill="#222" textLength="26.30" lengthAdjust="spacingAndGlyphs" stroke="#222" stroke-width="0.14">Lag-phase</text>
<text x="533.30" y="35.60" font-size="7.4" text-anchor="end" font-weight="normal" fill="#231f20" stroke="#231f20" stroke-width="0.24">14</text>
<text x="533.30" y="49.00" font-size="7.4" text-anchor="end" font-weight="normal" fill="#231f20" stroke="#231f20" stroke-width="0.24">12</text>
<text x="533.30" y="63.00" font-size="7.4" text-anchor="end" font-weight="normal" fill="#231f20" stroke="#231f20" stroke-width="0.24">10</text>
<text x="533.30" y="76.10" font-size="7.4" text-anchor="end" font-weight="normal" fill="#231f20" stroke="#231f20" stroke-width="0.24">8</text>
<text x="533.30" y="90.10" font-size="7.4" text-anchor="end" font-weight="normal" fill="#231f20" stroke="#231f20" stroke-width="0.24">6</text>
<text x="533.30" y="103.70" font-size="7.4" text-anchor="end" font-weight="normal" fill="#231f20" stroke="#231f20" stroke-width="0.24">4</text>
<text x="533.30" y="117.20" font-size="7.4" text-anchor="end" font-weight="normal" fill="#231f20" stroke="#231f20" stroke-width="0.24">2</text>
<text x="533.30" y="130.60" font-size="7.4" text-anchor="end" font-weight="normal" fill="#231f20" stroke="#231f20" stroke-width="0.24">0</text>
<text x="543.50" y="144.70" font-size="7.3" text-anchor="middle" font-weight="normal" fill="#231f20" stroke="#231f20" stroke-width="0.24">0</text>
<text x="577.60" y="144.70" font-size="7.3" text-anchor="middle" font-weight="normal" fill="#231f20" stroke="#231f20" stroke-width="0.24">0.5</text>
<text x="614.30" y="144.70" font-size="7.3" text-anchor="middle" font-weight="normal" fill="#231f20" stroke="#231f20" stroke-width="0.24">1.0</text>
<text x="649.50" y="144.70" font-size="7.3" text-anchor="middle" font-weight="normal" fill="#231f20" stroke="#231f20" stroke-width="0.24">1.5</text>
<text x="547.20" y="152.50" font-size="7.8" text-anchor="start" font-weight="normal" fill="#231f20" textLength="98.60" lengthAdjust="spacingAndGlyphs" stroke="#231f20" stroke-width="0.2">Relative membrane potential</text>
<text x="520.10" y="81.80" font-size="8.2" text-anchor="middle" font-weight="normal" fill="#231f20" textLength="42.00" lengthAdjust="spacingAndGlyphs" transform="rotate(-90 520.10 81.80)" stroke="#231f20" stroke-width="0.2">Time [hours]</text>
<text x="512.40" y="9.00" font-size="7.9" text-anchor="start" font-weight="bold" fill="#111">d</text>
<text x="527.90" y="5.80" font-size="8.2" text-anchor="start" font-weight="normal" fill="#231f20" textLength="139.40" lengthAdjust="spacingAndGlyphs" stroke="#231f20" stroke-width="0.16">EXPERIMENT 4: YPD + Vanillin (0.50g/L) +</text>
<text x="527.90" y="15.30" font-size="8.2" text-anchor="start" font-weight="normal" fill="#231f20" textLength="59.60" lengthAdjust="spacingAndGlyphs" stroke="#231f20" stroke-width="0.16">Furfural (1.25g/L)</text>
<defs><linearGradient id="g4" gradientUnits="userSpaceOnUse" x1="30.33" y1="0" x2="134.43" y2="0"><stop offset="0.0000" stop-color="#fbf0b8"/><stop offset="0.1000" stop-color="#fcb078"/><stop offset="0.1933" stop-color="#f88058"/><stop offset="0.2533" stop-color="#f45c64"/><stop offset="0.3000" stop-color="#ee5468"/><stop offset="0.3800" stop-color="#e04a70"/><stop offset="0.4667" stop-color="#c83a82"/><stop offset="0.5333" stop-color="#aa2c9c"/><stop offset="0.6133" stop-color="#8a18b0"/><stop offset="0.6800" stop-color="#6a10ac"/><stop offset="0.7667" stop-color="#4a1e8e"/><stop offset="0.8333" stop-color="#382874"/><stop offset="0.8800" stop-color="#241c4c"/><stop offset="0.9333" stop-color="#120e26"/><stop offset="1.0000" stop-color="#040406"/></linearGradient></defs>
<rect x="26.20" y="218.00" width="113.00" height="17.30" fill="#fcecf1"/>
<rect x="26.20" y="235.30" width="113.00" height="35.80" fill="#e8f5c3"/>
<rect x="26.20" y="271.10" width="113.00" height="42.10" fill="#fef4c3"/>
<line x1="33.80" y1="197.50" x2="33.80" y2="313.50" stroke="#b2b2b2" stroke-width="0.75" stroke-dasharray="0.8,2.7"/>
<line x1="68.60" y1="197.50" x2="68.60" y2="313.50" stroke="#b2b2b2" stroke-width="0.75" stroke-dasharray="0.8,2.7"/>
<line x1="103.50" y1="197.50" x2="103.50" y2="313.50" stroke="#b2b2b2" stroke-width="0.75" stroke-dasharray="0.8,2.7"/>
<line x1="137.90" y1="197.50" x2="137.90" y2="313.50" stroke="#b2b2b2" stroke-width="0.75" stroke-dasharray="0.8,2.7"/>
<path d="M31.0,221.0 53.7,219.7 62.2,218.8 64.2,218.4 65.7,218.0 67.7,216.9 70.2,214.7 71.5,213.1 73.7,209.7 77.2,203.9 80.0,201.0 80.7,200.6 81.5,200.4 82.0,200.5 82.7,201.0 85.0,203.2 88.7,209.1 94.0,216.7 96.2,218.8 98.0,219.9 99.5,220.3 101.7,220.6 107.7,221.0 134.7,221.0Z" fill="url(#g4)" stroke="#303030" stroke-width="0.7" stroke-linejoin="round"/>
<path d="M31.0,235.0 54.2,234.1 68.2,233.3 72.0,232.9 74.7,232.5 77.7,231.8 80.5,230.9 82.7,229.9 83.7,229.2 84.2,228.6 85.2,226.9 87.2,222.2 90.2,215.9 92.2,213.1 93.0,212.5 93.5,212.4 94.0,212.6 94.7,213.4 96.2,215.9 98.5,223.6 100.0,227.9 101.0,230.3 101.5,231.2 102.5,232.5 104.0,233.8 104.7,234.1 107.2,234.6 112.7,234.9 134.7,235.0Z" fill="url(#g4)" stroke="#303030" stroke-width="0.7" stroke-linejoin="round"/>
<path d="M31.0,249.0 37.2,248.9 45.2,248.5 53.7,247.8 65.5,246.3 69.2,245.5 72.5,244.7 75.7,243.3 77.5,242.2 78.7,241.2 80.2,239.3 83.2,234.6 85.5,231.7 87.0,230.4 88.2,229.6 89.0,229.5 89.5,229.6 90.2,230.2 91.5,231.5 92.0,232.2 96.5,242.8 98.0,245.6 98.5,246.2 99.7,247.2 101.5,248.2 102.2,248.5 104.0,248.7 107.5,249.0 134.7,249.0Z" fill="url(#g4)" stroke="#303030" stroke-width="0.7" stroke-linejoin="round"/>
<path d="M31.0,263.2 36.7,263.2 42.0,262.9 45.0,262.5 48.2,261.8 49.7,261.0 53.5,258.1 57.0,256.1 59.7,254.7 63.0,253.3 65.0,252.6 67.7,252.0 69.7,251.8 70.5,251.9 71.2,252.3 76.0,255.3 77.2,255.9 78.5,256.0 82.5,255.4 83.2,255.5 84.2,255.8 87.5,257.5 90.5,260.1 91.5,260.8 94.5,262.1 96.7,262.8 101.7,263.2 134.7,263.2Z" fill="url(#g4)" stroke="#303030" stroke-width="0.7" stroke-linejoin="round"/>
<path d="M31.0,277.1 41.2,277.1 52.0,276.4 57.7,275.7 64.7,274.7 67.7,274.1 70.2,273.3 71.5,272.6 72.7,271.6 74.2,270.1 75.5,268.6 76.5,266.9 79.2,260.9 80.2,259.3 82.0,256.9 84.0,254.8 85.5,253.6 86.5,253.2 87.0,253.3 87.7,254.0 88.5,255.1 90.0,257.7 90.7,259.6 93.0,266.3 95.0,271.0 96.0,273.1 97.0,274.4 99.2,275.8 100.5,276.4 101.5,276.6 106.2,277.1 134.7,277.1Z" fill="url(#g4)" stroke="#303030" stroke-width="0.7" stroke-linejoin="round"/>
<path d="M31.0,291.2 50.0,291.2 52.7,291.1 63.2,290.3 66.2,289.8 67.7,289.3 68.7,288.7 70.0,287.7 71.2,286.5 72.0,285.6 73.2,282.8 76.0,274.9 78.7,268.7 79.5,267.5 80.7,266.2 81.7,265.5 82.5,265.3 83.0,265.5 83.7,266.3 85.5,269.5 86.2,271.9 88.5,280.7 90.7,286.3 91.5,287.7 92.2,288.7 94.2,289.9 95.5,290.4 96.7,290.8 101.2,291.2 134.7,291.2Z" fill="url(#g4)" stroke="#303030" stroke-width="0.7" stroke-linejoin="round"/>
<path d="M31.0,304.8 56.2,304.8 59.0,304.7 63.0,304.4 65.2,304.0 67.5,303.4 69.7,302.4 70.5,301.8 71.5,300.4 72.5,298.4 74.2,294.5 75.2,291.7 77.0,285.9 78.0,283.4 79.7,280.5 80.7,279.1 81.7,278.2 82.5,278.0 83.2,278.2 84.2,279.0 85.5,280.7 86.5,282.3 87.5,285.0 89.5,291.8 91.7,298.4 92.7,300.7 93.2,301.4 94.2,302.4 96.2,303.7 98.0,304.3 100.5,304.7 102.5,304.8 134.7,304.8Z" fill="url(#g4)" stroke="#303030" stroke-width="0.7" stroke-linejoin="round"/>
<rect x="26.20" y="197.50" width="113.00" height="116.00" fill="none" stroke="#9c9c9c" stroke-width="0.8"/>
<line x1="26.20" y1="221.00" x2="27.60" y2="221.00" stroke="#555" stroke-width="0.7"/>
<line x1="26.20" y1="235.00" x2="27.60" y2="235.00" stroke="#555" stroke-width="0.7"/>
<line x1="26.20" y1="249.00" x2="27.60" y2="249.00" stroke="#555" stroke-width="0.7"/>
<line x1="26.20" y1="263.20" x2="27.60" y2="263.20" stroke="#555" stroke-width="0.7"/>
<line x1="26.20" y1="277.10" x2="27.60" y2="277.10" stroke="#555" stroke-width="0.7"/>
<line x1="26.20" y1="291.20" x2="27.60" y2="291.20" stroke="#555" stroke-width="0.7"/>
<line x1="26.20" y1="304.80" x2="27.60" y2="304.80" stroke="#555" stroke-width="0.7"/>
<line x1="33.80" y1="313.50" x2="33.80" y2="314.70" stroke="#555" stroke-width="0.7"/>
<line x1="68.60" y1="313.50" x2="68.60" y2="314.70" stroke="#555" stroke-width="0.7"/>
<line x1="103.50" y1="313.50" x2="103.50" y2="314.70" stroke="#555" stroke-width="0.7"/>
<line x1="137.90" y1="313.50" x2="137.90" y2="314.70" stroke="#555" stroke-width="0.7"/>
<text x="37.10" y="228.90" font-size="6.1" text-anchor="start" font-weight="normal" fill="#222" textLength="26.00" lengthAdjust="spacingAndGlyphs" stroke="#222" stroke-width="0.14">Stationary</text>
<text x="33.70" y="269.80" font-size="6.1" text-anchor="start" font-weight="normal" fill="#222" textLength="30.90" lengthAdjust="spacingAndGlyphs" stroke="#222" stroke-width="0.14">Exponential</text>
<text x="36.70" y="310.80" font-size="6.1" text-anchor="start" font-weight="normal" fill="#222" textLength="26.30" lengthAdjust="spacingAndGlyphs" stroke="#222" stroke-width="0.14">Lag-phase</text>
<text x="19.00" y="222.80" font-size="7.4" text-anchor="end" font-weight="normal" fill="#231f20" stroke="#231f20" stroke-width="0.24">12</text>
<text x="19.00" y="236.80" font-size="7.4" text-anchor="end" font-weight="normal" fill="#231f20" stroke="#231f20" stroke-width="0.24">10</text>
<text x="19.00" y="250.80" font-size="7.4" text-anchor="end" font-weight="normal" fill="#231f20" stroke="#231f20" stroke-width="0.24">8</text>
<text x="19.00" y="265.00" font-size="7.4" text-anchor="end" font-weight="normal" fill="#231f20" stroke="#231f20" stroke-width="0.24">6</text>
<text x="19.00" y="278.90" font-size="7.4" text-anchor="end" font-weight="normal" fill="#231f20" stroke="#231f20" stroke-width="0.24">4</text>
<text x="19.00" y="293.00" font-size="7.4" text-anchor="end" font-weight="normal" fill="#231f20" stroke="#231f20" stroke-width="0.24">2</text>
<text x="19.00" y="306.60" font-size="7.4" text-anchor="end" font-weight="normal" fill="#231f20" stroke="#231f20" stroke-width="0.24">0</text>
<text x="29.90" y="321.70" font-size="7.3" text-anchor="middle" font-weight="normal" fill="#231f20" stroke="#231f20" stroke-width="0.24">0</text>
<text x="64.90" y="321.70" font-size="7.3" text-anchor="middle" font-weight="normal" fill="#231f20" stroke="#231f20" stroke-width="0.24">0.5</text>
<text x="99.70" y="321.70" font-size="7.3" text-anchor="middle" font-weight="normal" fill="#231f20" stroke="#231f20" stroke-width="0.24">1.0</text>
<text x="135.30" y="321.70" font-size="7.3" text-anchor="middle" font-weight="normal" fill="#231f20" stroke="#231f20" stroke-width="0.24">1.5</text>
<text x="33.60" y="330.70" font-size="7.8" text-anchor="start" font-weight="normal" fill="#231f20" textLength="99.20" lengthAdjust="spacingAndGlyphs" stroke="#231f20" stroke-width="0.2">Relative membrane potential</text>
<text x="7.10" y="259.20" font-size="8.2" text-anchor="middle" font-weight="normal" fill="#231f20" textLength="41.80" lengthAdjust="spacingAndGlyphs" transform="rotate(-90 7.10 259.20)" stroke="#231f20" stroke-width="0.2">Time [hours]</text>
<text x="-0.20" y="189.30" font-size="8.6" text-anchor="start" font-weight="bold" fill="#111">e</text>
<text x="14.80" y="189.30" font-size="8.2" text-anchor="start" font-weight="normal" fill="#231f20" textLength="123.40" lengthAdjust="spacingAndGlyphs" stroke="#231f20" stroke-width="0.16">EXPERIMENT 5: YPD + HAc (3.00g/L)</text>
<defs><linearGradient id="g5" gradientUnits="userSpaceOnUse" x1="196.08" y1="0" x2="301.53" y2="0"><stop offset="0.0000" stop-color="#fbf0b8"/><stop offset="0.1000" stop-color="#fcb078"/><stop offset="0.1933" stop-color="#f88058"/><stop offset="0.2533" stop-color="#f45c64"/><stop offset="0.3000" stop-color="#ee5468"/><stop offset="0.3800" stop-color="#e04a70"/><stop offset="0.4667" stop-color="#c83a82"/><stop offset="0.5333" stop-color="#aa2c9c"/><stop offset="0.6133" stop-color="#8a18b0"/><stop offset="0.6800" stop-color="#6a10ac"/><stop offset="0.7667" stop-color="#4a1e8e"/><stop offset="0.8333" stop-color="#382874"/><stop offset="0.8800" stop-color="#241c4c"/><stop offset="0.9333" stop-color="#120e26"/><stop offset="1.0000" stop-color="#040406"/></linearGradient></defs>
<rect x="193.20" y="215.00" width="113.30" height="31.60" fill="#fcecf1"/>
<rect x="193.20" y="246.60" width="113.30" height="11.00" fill="#e8f5c3"/>
<rect x="193.20" y="257.60" width="113.30" height="55.70" fill="#fef4c3"/>
<line x1="200.30" y1="197.00" x2="200.30" y2="313.30" stroke="#b2b2b2" stroke-width="0.75" stroke-dasharray="0.8,2.7"/>
<line x1="235.30" y1="197.00" x2="235.30" y2="313.30" stroke="#b2b2b2" stroke-width="0.75" stroke-dasharray="0.8,2.7"/>
<line x1="270.50" y1="197.00" x2="270.50" y2="313.30" stroke="#b2b2b2" stroke-width="0.75" stroke-dasharray="0.8,2.7"/>
<line x1="305.80" y1="197.00" x2="305.80" y2="313.30" stroke="#b2b2b2" stroke-width="0.75" stroke-dasharray="0.8,2.7"/>
<path d="M198.4,216.0 220.4,215.3 236.1,214.6 244.1,213.9 249.1,213.1 251.4,212.5 252.6,212.0 254.4,211.0 257.1,209.2 259.4,207.5 262.1,205.1 265.6,201.4 267.4,200.3 268.4,200.0 268.9,200.1 269.4,200.6 270.9,202.7 271.6,204.5 273.4,209.8 275.1,213.1 276.1,214.2 278.9,215.1 282.1,215.5 288.4,215.8 301.6,216.0Z" fill="url(#g5)" stroke="#303030" stroke-width="0.7" stroke-linejoin="round"/>
<path d="M198.4,226.4 232.9,225.3 238.9,224.9 244.1,224.3 248.1,223.6 249.9,223.1 251.6,222.3 255.6,220.0 258.4,218.2 259.6,217.5 262.4,216.7 264.6,216.5 265.4,216.7 266.4,217.3 272.1,222.0 274.9,224.0 276.4,224.9 277.6,225.3 281.1,226.0 285.6,226.3 301.6,226.4Z" fill="url(#g5)" stroke="#303030" stroke-width="0.7" stroke-linejoin="round"/>
<path d="M198.4,236.3 221.6,235.9 232.1,235.5 238.6,234.9 245.4,233.8 247.1,233.3 249.1,232.6 253.4,230.6 254.9,229.6 258.1,226.7 261.4,224.2 262.9,223.4 264.1,223.0 265.1,222.9 265.6,223.0 266.4,223.3 268.1,224.7 269.1,226.0 270.9,228.9 273.6,233.1 274.6,234.0 276.4,234.9 278.6,235.5 283.4,235.9 291.9,236.3 301.6,236.3Z" fill="url(#g5)" stroke="#303030" stroke-width="0.7" stroke-linejoin="round"/>
<path d="M198.4,246.3 218.1,246.2 225.6,245.8 229.4,245.2 232.9,244.2 238.1,241.5 244.6,239.0 249.1,236.7 252.4,235.3 254.1,234.7 255.4,234.5 256.1,234.7 256.9,235.0 259.4,236.7 263.4,240.9 265.4,243.2 266.4,244.1 267.9,244.9 270.1,245.7 272.1,246.0 277.1,246.3 301.6,246.3Z" fill="url(#g5)" stroke="#303030" stroke-width="0.7" stroke-linejoin="round"/>
<path d="M198.4,256.4 223.9,256.4 229.9,256.1 233.4,255.6 235.6,255.0 239.6,253.5 241.9,252.5 243.9,251.4 245.4,250.4 246.1,249.8 249.1,246.5 250.1,245.6 253.1,243.6 254.1,243.1 254.9,243.0 255.6,243.1 256.4,243.5 258.9,245.7 259.9,246.9 262.4,250.7 265.4,254.1 266.6,255.0 268.1,255.5 271.1,256.1 275.9,256.4 301.6,256.4Z" fill="url(#g5)" stroke="#303030" stroke-width="0.7" stroke-linejoin="round"/>
<path d="M198.4,266.5 224.9,266.5 230.1,266.2 232.9,265.8 235.1,265.2 236.1,264.7 237.1,263.8 239.9,261.2 243.1,258.5 244.6,257.4 247.9,255.9 249.1,255.5 250.1,255.4 251.1,255.5 252.1,255.8 254.6,256.9 255.9,258.0 258.4,260.8 261.9,263.8 263.6,264.8 267.1,265.9 269.4,266.3 273.4,266.5 301.6,266.5Z" fill="url(#g5)" stroke="#303030" stroke-width="0.7" stroke-linejoin="round"/>
<path d="M198.4,276.9 228.1,276.9 233.6,276.6 235.9,276.1 238.6,275.1 240.1,274.2 243.9,270.6 247.6,266.0 250.1,263.6 251.9,262.3 253.4,261.7 254.4,261.5 254.9,261.6 255.6,262.0 257.4,263.6 262.4,271.8 263.9,273.8 264.6,274.5 265.9,275.3 267.9,276.2 270.6,276.7 273.6,276.9 301.6,276.9Z" fill="url(#g5)" stroke="#303030" stroke-width="0.7" stroke-linejoin="round"/>
<path d="M198.4,287.0 229.1,287.0 234.4,286.8 235.6,286.5 237.1,285.9 238.9,285.0 240.1,284.1 241.4,282.8 243.1,280.7 245.6,276.3 247.4,273.9 248.4,272.8 249.1,272.2 250.6,271.4 251.6,271.0 252.4,270.9 253.1,271.0 253.9,271.4 255.1,272.2 255.6,272.7 256.4,273.9 258.4,277.8 260.9,283.0 262.9,285.5 263.6,286.1 264.1,286.4 266.9,286.8 269.6,287.0 301.6,287.0Z" fill="url(#g5)" stroke="#303030" stroke-width="0.7" stroke-linejoin="round"/>
<path d="M198.4,297.2 231.4,297.2 235.4,297.1 236.6,296.8 238.9,295.7 239.6,295.2 240.4,294.4 241.4,292.9 242.9,290.2 245.1,284.6 246.9,281.4 247.6,280.4 248.1,279.9 249.1,279.4 249.9,279.3 250.6,279.5 251.9,280.3 252.4,280.8 252.9,281.6 254.9,285.9 256.9,291.2 258.9,295.0 259.6,295.9 261.6,296.8 263.1,297.1 266.9,297.2 301.6,297.2Z" fill="url(#g5)" stroke="#303030" stroke-width="0.7" stroke-linejoin="round"/>
<path d="M198.4,307.2 232.6,307.2 236.1,307.0 238.9,306.7 239.6,306.3 240.6,305.4 242.9,302.7 243.6,301.2 247.1,292.4 248.1,290.4 249.4,288.9 250.4,288.0 251.1,287.8 252.4,287.6 252.9,287.7 253.4,288.0 254.4,289.0 254.9,289.6 255.6,291.2 256.9,294.6 258.4,299.3 260.1,304.2 260.9,305.4 261.9,306.3 262.6,306.7 264.4,307.0 267.6,307.2 301.6,307.2Z" fill="url(#g5)" stroke="#303030" stroke-width="0.7" stroke-linejoin="round"/>
<rect x="193.20" y="197.00" width="113.30" height="116.30" fill="none" stroke="#9c9c9c" stroke-width="0.8"/>
<line x1="193.20" y1="216.00" x2="194.60" y2="216.00" stroke="#555" stroke-width="0.7"/>
<line x1="193.20" y1="226.40" x2="194.60" y2="226.40" stroke="#555" stroke-width="0.7"/>
<line x1="193.20" y1="236.30" x2="194.60" y2="236.30" stroke="#555" stroke-width="0.7"/>
<line x1="193.20" y1="246.30" x2="194.60" y2="246.30" stroke="#555" stroke-width="0.7"/>
<line x1="193.20" y1="256.40" x2="194.60" y2="256.40" stroke="#555" stroke-width="0.7"/>
<line x1="193.20" y1="266.50" x2="194.60" y2="266.50" stroke="#555" stroke-width="0.7"/>
<line x1="193.20" y1="276.90" x2="194.60" y2="276.90" stroke="#555" stroke-width="0.7"/>
<line x1="193.20" y1="287.00" x2="194.60" y2="287.00" stroke="#555" stroke-width="0.7"/>
<line x1="193.20" y1="297.00" x2="194.60" y2="297.00" stroke="#555" stroke-width="0.7"/>
<line x1="193.20" y1="307.10" x2="194.60" y2="307.10" stroke="#555" stroke-width="0.7"/>
<line x1="200.30" y1="313.30" x2="200.30" y2="314.50" stroke="#555" stroke-width="0.7"/>
<line x1="235.30" y1="313.30" x2="235.30" y2="314.50" stroke="#555" stroke-width="0.7"/>
<line x1="270.50" y1="313.30" x2="270.50" y2="314.50" stroke="#555" stroke-width="0.7"/>
<line x1="305.80" y1="313.30" x2="305.80" y2="314.50" stroke="#555" stroke-width="0.7"/>
<text x="202.70" y="222.60" font-size="6.1" text-anchor="start" font-weight="normal" fill="#222" textLength="26.30" lengthAdjust="spacingAndGlyphs" stroke="#222" stroke-width="0.14">Stationary</text>
<text x="202.50" y="254.40" font-size="6.1" text-anchor="start" font-weight="normal" fill="#222" textLength="30.80" lengthAdjust="spacingAndGlyphs" stroke="#222" stroke-width="0.14">Exponential</text>
<text x="202.00" y="304.60" font-size="6.1" text-anchor="start" font-weight="normal" fill="#222" textLength="26.60" lengthAdjust="spacingAndGlyphs" stroke="#222" stroke-width="0.14">Lag-phase</text>
<text x="189.50" y="217.80" font-size="7.4" text-anchor="end" font-weight="normal" fill="#231f20" stroke="#231f20" stroke-width="0.24">23</text>
<text x="189.50" y="228.20" font-size="7.4" text-anchor="end" font-weight="normal" fill="#231f20" stroke="#231f20" stroke-width="0.24">21</text>
<text x="189.50" y="238.10" font-size="7.4" text-anchor="end" font-weight="normal" fill="#231f20" stroke="#231f20" stroke-width="0.24">19</text>
<text x="189.50" y="248.10" font-size="7.4" text-anchor="end" font-weight="normal" fill="#231f20" stroke="#231f20" stroke-width="0.24">17</text>
<text x="189.50" y="258.20" font-size="7.4" text-anchor="end" font-weight="normal" fill="#231f20" stroke="#231f20" stroke-width="0.24">15</text>
<text x="189.50" y="268.30" font-size="7.4" text-anchor="end" font-weight="normal" fill="#231f20" stroke="#231f20" stroke-width="0.24">8</text>
<text x="189.50" y="278.70" font-size="7.4" text-anchor="end" font-weight="normal" fill="#231f20" stroke="#231f20" stroke-width="0.24">6</text>
<text x="189.50" y="288.80" font-size="7.4" text-anchor="end" font-weight="normal" fill="#231f20" stroke="#231f20" stroke-width="0.24">4</text>
<text x="189.50" y="298.80" font-size="7.4" text-anchor="end" font-weight="normal" fill="#231f20" stroke="#231f20" stroke-width="0.24">2</text>
<text x="189.50" y="308.90" font-size="7.4" text-anchor="end" font-weight="normal" fill="#231f20" stroke="#231f20" stroke-width="0.24">0</text>
<text x="192.50" y="321.70" font-size="7.3" text-anchor="middle" font-weight="normal" fill="#231f20" stroke="#231f20" stroke-width="0.24">0</text>
<text x="227.50" y="321.70" font-size="7.3" text-anchor="middle" font-weight="normal" fill="#231f20" stroke="#231f20" stroke-width="0.24">0.5</text>
<text x="262.40" y="321.70" font-size="7.3" text-anchor="middle" font-weight="normal" fill="#231f20" stroke="#231f20" stroke-width="0.24">1.0</text>
<text x="296.60" y="321.70" font-size="7.3" text-anchor="middle" font-weight="normal" fill="#231f20" stroke="#231f20" stroke-width="0.24">1.5</text>
<text x="196.30" y="330.50" font-size="7.8" text-anchor="start" font-weight="normal" fill="#231f20" textLength="99.00" lengthAdjust="spacingAndGlyphs" stroke="#231f20" stroke-width="0.2">Relative membrane potential</text>
<text x="177.40" y="258.40" font-size="8.2" text-anchor="middle" font-weight="normal" fill="#231f20" textLength="42.70" lengthAdjust="spacingAndGlyphs" transform="rotate(-90 177.40 258.40)" stroke="#231f20" stroke-width="0.2">Time [hours]</text>
<text x="169.90" y="186.80" font-size="7.9" text-anchor="start" font-weight="bold" fill="#111">f</text>
<text x="184.80" y="182.30" font-size="8.2" text-anchor="start" font-weight="normal" fill="#231f20" textLength="141.00" lengthAdjust="spacingAndGlyphs" stroke="#231f20" stroke-width="0.16">EXPERIMENT 6: YPD + Vanillin (0.50g/L) +</text>
<text x="184.80" y="192.80" font-size="8.2" text-anchor="start" font-weight="normal" fill="#231f20" textLength="46.90" lengthAdjust="spacingAndGlyphs" stroke="#231f20" stroke-width="0.16">HAc (3.00g/L)</text>
<defs><linearGradient id="g6" gradientUnits="userSpaceOnUse" x1="368.11" y1="0" x2="472.81" y2="0"><stop offset="0.0000" stop-color="#fbf0b8"/><stop offset="0.1000" stop-color="#fcb078"/><stop offset="0.1933" stop-color="#f88058"/><stop offset="0.2533" stop-color="#f45c64"/><stop offset="0.3000" stop-color="#ee5468"/><stop offset="0.3800" stop-color="#e04a70"/><stop offset="0.4667" stop-color="#c83a82"/><stop offset="0.5333" stop-color="#aa2c9c"/><stop offset="0.6133" stop-color="#8a18b0"/><stop offset="0.6800" stop-color="#6a10ac"/><stop offset="0.7667" stop-color="#4a1e8e"/><stop offset="0.8333" stop-color="#382874"/><stop offset="0.8800" stop-color="#241c4c"/><stop offset="0.9333" stop-color="#120e26"/><stop offset="1.0000" stop-color="#040406"/></linearGradient></defs>
<rect x="362.30" y="227.90" width="113.70" height="26.20" fill="#fcecf1"/>
<rect x="362.30" y="254.10" width="113.70" height="30.10" fill="#e8f5c3"/>
<rect x="362.30" y="284.20" width="113.70" height="29.00" fill="#fef4c3"/>
<line x1="370.20" y1="197.20" x2="370.20" y2="313.20" stroke="#b2b2b2" stroke-width="0.75" stroke-dasharray="0.8,2.7"/>
<line x1="405.50" y1="197.20" x2="405.50" y2="313.20" stroke="#b2b2b2" stroke-width="0.75" stroke-dasharray="0.8,2.7"/>
<line x1="440.30" y1="197.20" x2="440.30" y2="313.20" stroke="#b2b2b2" stroke-width="0.75" stroke-dasharray="0.8,2.7"/>
<line x1="475.00" y1="197.20" x2="475.00" y2="313.20" stroke="#b2b2b2" stroke-width="0.75" stroke-dasharray="0.8,2.7"/>
<path d="M367.5,228.4 388.2,228.4 394.7,228.0 397.7,227.6 403.2,226.5 410.1,225.1 414.6,224.2 416.9,223.6 418.1,223.0 419.6,222.0 421.4,220.4 422.4,219.3 423.6,217.4 426.9,211.7 429.4,207.0 430.6,205.2 431.1,204.8 432.8,203.7 433.8,203.3 434.6,203.2 435.3,203.4 436.3,204.3 437.3,205.6 438.3,207.4 439.1,209.6 440.6,215.3 443.1,223.5 443.8,225.0 445.6,226.6 446.6,227.1 447.6,227.4 452.8,226.8 453.8,227.1 455.8,227.9 456.5,228.0 471.0,228.4Z" fill="url(#g6)" stroke="#303030" stroke-width="0.7" stroke-linejoin="round"/>
<path d="M367.5,247.3 376.0,247.3 379.7,247.2 386.5,246.8 392.2,246.2 395.4,245.7 398.7,245.1 408.7,242.7 411.9,241.8 414.6,240.7 417.1,239.1 425.6,232.3 427.9,230.4 431.3,227.0 433.1,225.9 434.1,225.6 434.6,225.7 435.3,226.3 436.3,227.7 437.6,229.8 442.6,242.9 443.3,244.4 444.1,245.1 446.1,246.0 448.1,246.5 449.6,246.4 452.3,245.8 453.5,245.7 454.8,245.9 457.3,246.7 458.3,246.9 464.5,247.2 471.0,247.3Z" fill="url(#g6)" stroke="#303030" stroke-width="0.7" stroke-linejoin="round"/>
<path d="M367.5,265.3 378.7,265.2 385.5,264.8 390.2,264.4 395.7,263.7 399.9,263.0 404.4,261.9 407.7,260.9 412.1,259.0 414.1,257.9 415.6,256.9 418.1,254.7 421.9,250.9 425.4,246.5 426.6,245.1 427.4,244.5 429.6,243.1 430.6,242.7 431.3,242.6 432.1,242.8 433.1,243.7 435.3,246.9 436.3,249.3 438.6,256.1 440.3,260.4 441.3,262.4 442.1,263.1 444.6,264.1 447.3,264.5 451.5,264.7 455.3,264.0 456.8,263.9 458.0,264.0 462.0,264.9 467.0,265.2 471.0,265.3Z" fill="url(#g6)" stroke="#303030" stroke-width="0.7" stroke-linejoin="round"/>
<path d="M367.5,284.0 386.0,284.0 393.4,283.5 398.2,282.8 403.9,281.6 407.2,280.7 409.6,279.6 411.1,278.6 412.4,277.5 413.9,275.7 415.1,273.8 416.1,271.2 418.1,264.3 419.1,261.3 421.9,255.1 422.6,254.0 423.4,253.6 424.1,253.9 424.9,254.7 426.9,258.0 427.9,261.0 429.8,268.2 432.8,277.1 433.6,278.7 434.8,280.7 435.8,282.0 436.8,282.8 437.8,283.2 439.8,283.6 445.1,283.9 471.0,284.0Z" fill="url(#g6)" stroke="#303030" stroke-width="0.7" stroke-linejoin="round"/>
<path d="M367.5,302.5 395.4,302.5 400.4,302.0 401.2,301.7 402.2,301.1 403.2,300.1 404.2,298.9 404.9,297.8 405.4,296.6 406.7,291.8 410.6,272.4 411.6,269.4 412.6,266.9 413.4,265.7 413.9,265.4 414.4,265.6 415.1,266.7 416.6,270.1 417.1,271.6 417.9,274.6 419.9,284.0 422.1,293.2 423.1,296.6 423.6,297.7 424.6,299.1 425.9,300.5 426.9,301.4 427.6,301.8 428.4,302.0 430.8,302.3 433.3,302.5 471.0,302.5Z" fill="url(#g6)" stroke="#303030" stroke-width="0.7" stroke-linejoin="round"/>
<rect x="362.30" y="197.20" width="113.70" height="116.00" fill="none" stroke="#9c9c9c" stroke-width="0.8"/>
<line x1="362.30" y1="228.40" x2="363.70" y2="228.40" stroke="#555" stroke-width="0.7"/>
<line x1="362.30" y1="247.30" x2="363.70" y2="247.30" stroke="#555" stroke-width="0.7"/>
<line x1="362.30" y1="265.30" x2="363.70" y2="265.30" stroke="#555" stroke-width="0.7"/>
<line x1="362.30" y1="284.00" x2="363.70" y2="284.00" stroke="#555" stroke-width="0.7"/>
<line x1="362.30" y1="302.50" x2="363.70" y2="302.50" stroke="#555" stroke-width="0.7"/>
<line x1="370.20" y1="313.20" x2="370.20" y2="314.40" stroke="#555" stroke-width="0.7"/>
<line x1="405.50" y1="313.20" x2="405.50" y2="314.40" stroke="#555" stroke-width="0.7"/>
<line x1="440.30" y1="313.20" x2="440.30" y2="314.40" stroke="#555" stroke-width="0.7"/>
<line x1="475.00" y1="313.20" x2="475.00" y2="314.40" stroke="#555" stroke-width="0.7"/>
<text x="374.40" y="238.40" font-size="6.1" text-anchor="start" font-weight="normal" fill="#222" textLength="26.40" lengthAdjust="spacingAndGlyphs" stroke="#222" stroke-width="0.14">Stationary</text>
<text x="371.90" y="276.70" font-size="6.1" text-anchor="start" font-weight="normal" fill="#222" textLength="30.20" lengthAdjust="spacingAndGlyphs" stroke="#222" stroke-width="0.14">Exponential</text>
<text x="373.80" y="309.60" font-size="6.1" text-anchor="start" font-weight="normal" fill="#222" textLength="26.20" lengthAdjust="spacingAndGlyphs" stroke="#222" stroke-width="0.14">Lag-phase</text>
<text x="360.60" y="230.20" font-size="7.4" text-anchor="end" font-weight="normal" fill="#231f20" stroke="#231f20" stroke-width="0.24">21</text>
<text x="360.60" y="249.10" font-size="7.4" text-anchor="end" font-weight="normal" fill="#231f20" stroke="#231f20" stroke-width="0.24">18</text>
<text x="360.60" y="267.10" font-size="7.4" text-anchor="end" font-weight="normal" fill="#231f20" stroke="#231f20" stroke-width="0.24">15</text>
<text x="360.60" y="285.80" font-size="7.4" text-anchor="end" font-weight="normal" fill="#231f20" stroke="#231f20" stroke-width="0.24">12</text>
<text x="360.60" y="304.30" font-size="7.4" text-anchor="end" font-weight="normal" fill="#231f20" stroke="#231f20" stroke-width="0.24">0</text>
<text x="366.90" y="321.70" font-size="7.3" text-anchor="middle" font-weight="normal" fill="#231f20" stroke="#231f20" stroke-width="0.24">0</text>
<text x="402.00" y="321.70" font-size="7.3" text-anchor="middle" font-weight="normal" fill="#231f20" stroke="#231f20" stroke-width="0.24">0.5</text>
<text x="437.40" y="321.70" font-size="7.3" text-anchor="middle" font-weight="normal" fill="#231f20" stroke="#231f20" stroke-width="0.24">1.0</text>
<text x="470.50" y="321.70" font-size="7.3" text-anchor="middle" font-weight="normal" fill="#231f20" stroke="#231f20" stroke-width="0.24">1.5</text>
<text x="370.70" y="330.60" font-size="7.8" text-anchor="start" font-weight="normal" fill="#231f20" textLength="98.70" lengthAdjust="spacingAndGlyphs" stroke="#231f20" stroke-width="0.2">Relative membrane potential</text>
<text x="349.30" y="254.60" font-size="8.2" text-anchor="middle" font-weight="normal" fill="#231f20" textLength="43.20" lengthAdjust="spacingAndGlyphs" transform="rotate(-90 349.30 254.60)" stroke="#231f20" stroke-width="0.2">Time [hours]</text>
<text x="340.60" y="189.30" font-size="7.9" text-anchor="start" font-weight="bold" fill="#111">g</text>
<text x="356.70" y="184.20" font-size="8.2" text-anchor="start" font-weight="normal" fill="#231f20" textLength="142.50" lengthAdjust="spacingAndGlyphs" stroke="#231f20" stroke-width="0.16">EXPERIMENT 7: YPD + Furfural (1.25g/L) +</text>
<text x="356.70" y="194.40" font-size="8.2" text-anchor="start" font-weight="normal" fill="#231f20" textLength="46.60" lengthAdjust="spacingAndGlyphs" stroke="#231f20" stroke-width="0.16">HAc (3.00g/L)</text>
<defs><linearGradient id="g7" gradientUnits="userSpaceOnUse" x1="541.80" y1="0" x2="646.65" y2="0"><stop offset="0.0000" stop-color="#fbf0b8"/><stop offset="0.1000" stop-color="#fcb078"/><stop offset="0.1933" stop-color="#f88058"/><stop offset="0.2533" stop-color="#f45c64"/><stop offset="0.3000" stop-color="#ee5468"/><stop offset="0.3800" stop-color="#e04a70"/><stop offset="0.4667" stop-color="#c83a82"/><stop offset="0.5333" stop-color="#aa2c9c"/><stop offset="0.6133" stop-color="#8a18b0"/><stop offset="0.6800" stop-color="#6a10ac"/><stop offset="0.7667" stop-color="#4a1e8e"/><stop offset="0.8333" stop-color="#382874"/><stop offset="0.8800" stop-color="#241c4c"/><stop offset="0.9333" stop-color="#120e26"/><stop offset="1.0000" stop-color="#040406"/></linearGradient></defs>
<rect x="535.20" y="228.00" width="112.80" height="6.70" fill="#fcecf1"/>
<rect x="535.20" y="234.70" width="112.80" height="42.10" fill="#e8f5c3"/>
<rect x="535.20" y="276.80" width="112.80" height="37.20" fill="#fef4c3"/>
<line x1="542.50" y1="197.20" x2="542.50" y2="314.00" stroke="#b2b2b2" stroke-width="0.75" stroke-dasharray="0.8,2.7"/>
<line x1="577.60" y1="197.20" x2="577.60" y2="314.00" stroke="#b2b2b2" stroke-width="0.75" stroke-dasharray="0.8,2.7"/>
<line x1="612.50" y1="197.20" x2="612.50" y2="314.00" stroke="#b2b2b2" stroke-width="0.75" stroke-dasharray="0.8,2.7"/>
<line x1="647.40" y1="197.20" x2="647.40" y2="314.00" stroke="#b2b2b2" stroke-width="0.75" stroke-dasharray="0.8,2.7"/>
<path d="M539.5,228.3 556.7,228.3 564.7,227.9 569.9,227.3 579.7,225.6 584.4,225.2 586.1,224.9 587.1,224.1 588.1,223.0 591.1,218.3 592.1,216.2 594.9,209.6 598.1,203.2 598.9,202.1 599.9,201.2 600.9,200.6 601.6,200.4 602.1,200.6 602.8,201.5 604.1,203.7 604.6,204.9 608.8,219.8 610.1,223.6 610.8,224.9 612.8,226.7 613.8,227.2 614.6,227.5 618.6,227.8 623.0,227.9 627.0,227.2 628.5,227.1 629.8,227.2 634.0,228.1 643.5,228.3Z" fill="url(#g7)" stroke="#303030" stroke-width="0.7" stroke-linejoin="round"/>
<path d="M539.5,247.1 550.0,247.1 557.2,246.6 559.7,246.3 561.9,245.9 564.4,245.2 565.7,244.6 567.9,242.9 570.7,240.1 572.2,237.9 575.7,231.5 578.9,226.6 580.2,225.0 581.9,223.2 582.6,222.6 583.4,222.3 584.1,222.6 585.1,223.8 587.6,227.7 591.1,234.3 594.4,238.7 595.9,240.4 597.4,241.7 600.1,243.7 602.1,244.8 603.3,245.2 606.3,245.9 610.3,246.5 622.8,246.7 630.5,246.1 636.8,246.8 643.5,247.1Z" fill="url(#g7)" stroke="#303030" stroke-width="0.7" stroke-linejoin="round"/>
<path d="M539.5,265.3 550.0,265.3 557.2,264.8 559.2,264.5 561.2,264.1 563.4,263.4 565.2,262.6 566.4,261.8 567.7,260.7 570.7,257.5 571.9,255.6 575.4,249.3 578.7,244.7 579.4,244.0 580.4,243.3 581.4,242.8 582.1,242.6 582.9,242.8 583.6,243.4 586.1,246.4 590.4,253.0 593.1,256.7 594.9,258.7 596.1,259.9 598.1,261.3 600.1,262.4 601.9,263.2 603.1,263.6 606.1,264.2 610.3,264.7 618.6,264.8 626.8,264.3 633.8,265.0 643.5,265.3Z" fill="url(#g7)" stroke="#303030" stroke-width="0.7" stroke-linejoin="round"/>
<path d="M539.5,284.0 545.2,283.9 551.7,283.5 556.0,282.7 558.0,282.1 559.0,281.6 560.4,280.7 564.9,277.2 567.9,274.6 569.7,272.6 572.4,268.5 575.2,264.8 576.9,263.1 577.4,262.7 577.9,262.6 578.4,262.8 578.9,263.2 580.4,265.2 580.9,266.2 582.9,272.0 584.1,274.1 585.1,275.4 585.6,275.9 586.4,276.3 589.4,277.3 591.6,279.2 593.9,280.7 596.1,282.0 597.9,282.8 598.9,283.0 600.4,283.2 606.3,283.6 624.8,283.5 630.0,283.1 635.5,283.6 643.5,284.0Z" fill="url(#g7)" stroke="#303030" stroke-width="0.7" stroke-linejoin="round"/>
<path d="M539.5,302.4 575.9,302.4 581.1,302.0 582.4,301.5 583.9,300.2 585.4,298.3 586.1,297.1 586.9,295.3 587.9,292.1 589.6,285.7 591.9,274.9 592.6,271.9 594.4,267.0 595.1,265.7 595.6,265.3 596.1,265.5 596.9,266.6 598.6,271.4 599.4,275.1 600.9,284.0 602.6,291.6 603.8,296.0 604.3,297.3 605.1,298.5 606.3,300.0 607.6,301.2 608.3,301.6 609.1,301.9 613.8,302.4 643.5,302.4Z" fill="url(#g7)" stroke="#303030" stroke-width="0.7" stroke-linejoin="round"/>
<rect x="535.20" y="197.20" width="112.80" height="116.80" fill="none" stroke="#9c9c9c" stroke-width="0.8"/>
<line x1="535.20" y1="228.30" x2="536.60" y2="228.30" stroke="#555" stroke-width="0.7"/>
<line x1="535.20" y1="247.10" x2="536.60" y2="247.10" stroke="#555" stroke-width="0.7"/>
<line x1="535.20" y1="265.30" x2="536.60" y2="265.30" stroke="#555" stroke-width="0.7"/>
<line x1="535.20" y1="284.00" x2="536.60" y2="284.00" stroke="#555" stroke-width="0.7"/>
<line x1="535.20" y1="302.40" x2="536.60" y2="302.40" stroke="#555" stroke-width="0.7"/>
<line x1="542.50" y1="314.00" x2="542.50" y2="315.20" stroke="#555" stroke-width="0.7"/>
<line x1="577.60" y1="314.00" x2="577.60" y2="315.20" stroke="#555" stroke-width="0.7"/>
<line x1="612.50" y1="314.00" x2="612.50" y2="315.20" stroke="#555" stroke-width="0.7"/>
<line x1="647.40" y1="314.00" x2="647.40" y2="315.20" stroke="#555" stroke-width="0.7"/>
<text x="544.40" y="234.20" font-size="6.1" text-anchor="start" font-weight="normal" fill="#222" textLength="25.80" lengthAdjust="spacingAndGlyphs" stroke="#222" stroke-width="0.14">Stationary</text>
<text x="543.00" y="254.40" font-size="6.1" text-anchor="start" font-weight="normal" fill="#222" textLength="30.30" lengthAdjust="spacingAndGlyphs" stroke="#222" stroke-width="0.14">Exponential</text>
<text x="548.40" y="310.10" font-size="6.1" text-anchor="start" font-weight="normal" fill="#222" textLength="26.40" lengthAdjust="spacingAndGlyphs" stroke="#222" stroke-width="0.14">Lag-phase</text>
<text x="533.50" y="230.10" font-size="7.4" text-anchor="end" font-weight="normal" fill="#231f20" stroke="#231f20" stroke-width="0.24">21</text>
<text x="533.50" y="248.90" font-size="7.4" text-anchor="end" font-weight="normal" fill="#231f20" stroke="#231f20" stroke-width="0.24">18</text>
<text x="533.50" y="267.10" font-size="7.4" text-anchor="end" font-weight="normal" fill="#231f20" stroke="#231f20" stroke-width="0.24">15</text>
<text x="533.50" y="285.80" font-size="7.4" text-anchor="end" font-weight="normal" fill="#231f20" stroke="#231f20" stroke-width="0.24">12</text>
<text x="533.50" y="304.20" font-size="7.4" text-anchor="end" font-weight="normal" fill="#231f20" stroke="#231f20" stroke-width="0.24">0</text>
<text x="541.80" y="321.70" font-size="7.3" text-anchor="middle" font-weight="normal" fill="#231f20" stroke="#231f20" stroke-width="0.24">0</text>
<text x="576.90" y="321.70" font-size="7.3" text-anchor="middle" font-weight="normal" fill="#231f20" stroke="#231f20" stroke-width="0.24">0.5</text>
<text x="612.00" y="321.70" font-size="7.3" text-anchor="middle" font-weight="normal" fill="#231f20" stroke="#231f20" stroke-width="0.24">1.0</text>
<text x="645.10" y="321.70" font-size="7.3" text-anchor="middle" font-weight="normal" fill="#231f20" stroke="#231f20" stroke-width="0.24">1.5</text>
<text x="545.80" y="330.60" font-size="7.8" text-anchor="start" font-weight="normal" fill="#231f20" textLength="98.50" lengthAdjust="spacingAndGlyphs" stroke="#231f20" stroke-width="0.2">Relative membrane potential</text>
<text x="520.00" y="260.00" font-size="8.2" text-anchor="middle" font-weight="normal" fill="#231f20" textLength="39.50" lengthAdjust="spacingAndGlyphs" transform="rotate(-90 520.00 260.00)" stroke="#231f20" stroke-width="0.2">Time (hours)</text>
<text x="512.60" y="185.80" font-size="7.9" text-anchor="start" font-weight="bold" fill="#111">h</text>
<text x="528.00" y="182.00" font-size="8.2" text-anchor="start" font-weight="normal" fill="#231f20" textLength="139.20" lengthAdjust="spacingAndGlyphs" stroke="#231f20" stroke-width="0.16">EXPERIMENT 8: YPD + Vanillin (0.50g/L) +</text>
<text x="528.00" y="191.60" font-size="8.2" text-anchor="start" font-weight="normal" fill="#231f20" textLength="114.50" lengthAdjust="spacingAndGlyphs" stroke="#231f20" stroke-width="0.16">Furfural (1.25g/L) + HAc (3.00g/L)</text>
<defs><linearGradient id="cb" x1="0" y1="0" x2="1" y2="0"><stop offset="0.0000" stop-color="#040406"/><stop offset="0.0500" stop-color="#040406"/><stop offset="0.0500" stop-color="#0c0c16"/><stop offset="0.1000" stop-color="#0c0c16"/><stop offset="0.1000" stop-color="#1c1834"/><stop offset="0.1500" stop-color="#1c1834"/><stop offset="0.1500" stop-color="#2a2060"/><stop offset="0.2000" stop-color="#2a2060"/><stop offset="0.2000" stop-color="#3a2870"/><stop offset="0.2500" stop-color="#3a2870"/><stop offset="0.2500" stop-color="#5a1a90"/><stop offset="0.3000" stop-color="#5a1a90"/><stop offset="0.3000" stop-color="#6c0ca0"/><stop offset="0.3500" stop-color="#6c0ca0"/><stop offset="0.3500" stop-color="#8a18a8"/><stop offset="0.4000" stop-color="#8a18a8"/><stop offset="0.4000" stop-color="#a028a8"/><stop offset="0.4500" stop-color="#a028a8"/><stop offset="0.4500" stop-color="#b03890"/><stop offset="0.5000" stop-color="#b03890"/><stop offset="0.5000" stop-color="#c03880"/><stop offset="0.5500" stop-color="#c03880"/><stop offset="0.5500" stop-color="#d84870"/><stop offset="0.6000" stop-color="#d84870"/><stop offset="0.6000" stop-color="#f05a68"/><stop offset="0.6500" stop-color="#f05a68"/><stop offset="0.6500" stop-color="#f87060"/><stop offset="0.7000" stop-color="#f87060"/><stop offset="0.7000" stop-color="#fa8460"/><stop offset="0.7500" stop-color="#fa8460"/><stop offset="0.7500" stop-color="#fc9a6a"/><stop offset="0.8000" stop-color="#fc9a6a"/><stop offset="0.8000" stop-color="#fdb078"/><stop offset="0.8500" stop-color="#fdb078"/><stop offset="0.8500" stop-color="#fdc890"/><stop offset="0.9000" stop-color="#fdc890"/><stop offset="0.9000" stop-color="#fde0a0"/><stop offset="0.9500" stop-color="#fde0a0"/><stop offset="0.9500" stop-color="#faf0b8"/><stop offset="1.0000" stop-color="#faf0b8"/></linearGradient></defs>
<rect x="285.1" y="361.8" width="117.70" height="15.10" fill="url(#cb)"/>
<text x="292.70" y="353.30" font-size="7.9" text-anchor="start" font-weight="normal" fill="#231f20" textLength="98.30" lengthAdjust="spacingAndGlyphs" stroke="#231f20" stroke-width="0.28">Relative membrane potential</text>
<text x="247.00" y="369.10" font-size="7.9" text-anchor="middle" font-weight="normal" fill="#231f20" textLength="40.50" lengthAdjust="spacingAndGlyphs" stroke="#231f20" stroke-width="0.28">Higher than</text>
<text x="247.60" y="378.40" font-size="7.9" text-anchor="middle" font-weight="normal" fill="#231f20" textLength="45.00" lengthAdjust="spacingAndGlyphs" stroke="#231f20" stroke-width="0.28">the reference</text>
<text x="441.20" y="367.00" font-size="7.9" text-anchor="middle" font-weight="normal" fill="#231f20" textLength="37.70" lengthAdjust="spacingAndGlyphs" stroke="#231f20" stroke-width="0.28">Lower than</text>
<text x="442.10" y="376.60" font-size="7.9" text-anchor="middle" font-weight="normal" fill="#231f20" textLength="44.30" lengthAdjust="spacingAndGlyphs" stroke="#231f20" stroke-width="0.28">the reference</text>
<text x="285.30" y="387.00" font-size="7.4" text-anchor="middle" font-weight="normal" fill="#231f20" stroke="#231f20" stroke-width="0.28">1.5</text>
<text x="324.50" y="387.00" font-size="7.4" text-anchor="middle" font-weight="normal" fill="#231f20" stroke="#231f20" stroke-width="0.28">1.0</text>
<text x="363.60" y="387.00" font-size="7.4" text-anchor="middle" font-weight="normal" fill="#231f20" stroke="#231f20" stroke-width="0.28">0.5</text>
<text x="402.50" y="387.00" font-size="7.4" text-anchor="middle" font-weight="normal" fill="#231f20" stroke="#231f20" stroke-width="0.28">0.0</text>
</svg></body></html>
